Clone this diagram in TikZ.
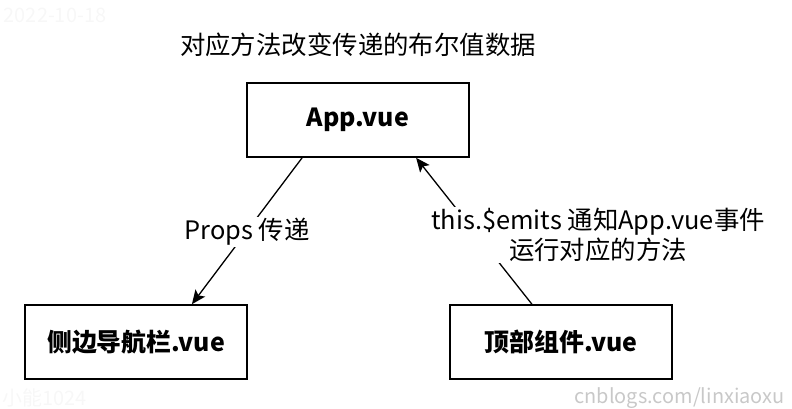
\documentclass[tikz,border=0pt]{standalone}
\usepackage{fontspec}
\setmainfont{Noto Sans CJK SC}
\usepackage{tikz}
\usetikzlibrary{arrows.meta,calc}
\definecolor{markGray}{RGB}{200,200,200}
\definecolor{faintGray}{RGB}{247,247,247}

\begin{document}
\begin{tikzpicture}[x=1bp, y=-1bp,
    comp/.style={draw, line width=1.6bp, minimum width=222bp, minimum height=74bp,
      font=\fontsize{25}{30}\selectfont\bfseries},
    link/.style={line width=1.3bp, -{Stealth[length=14bp, width=12bp, inset=3bp]}},
    lbl/.style={fill=white, inner sep=1bp, align=center, font=\fontsize{25.5}{30}\selectfont}]
  \useasboundingbox (0,0) rectangle (792,408);
  \node[font=\fontsize{25.5}{30}\selectfont] (title) at (358,45) {对应方法改变传递的布尔值数据};
  \node[comp] (app) at (358,120) {App.vue};
  \node[comp] (side) at (136,342) {侧边导航栏.vue};
  \node[comp] (top) at (561,342) {顶部组件.vue};
  % arrows between the components
  \draw[link] ($(app.south west)!0.25!(app.south east)$) -- ($(side.north west)!0.75!(side.north east)$);
  \draw[link] ($(top.north west)!0.37!(top.north east)$) -- ($(app.south west)!0.76!(app.south east)$);
  \node[lbl] (props) at (247,232) {Props 传递};
  \node[lbl] (emits) at (598,235) {this.\$emits 通知App.vue事件\\运行对应的方法};
  % watermarks
  \node[text=faintGray, font=\fontsize{20}{24}\selectfont] (date) at (55,15) {2022-10-18};
  \node[text=faintGray, font=\fontsize{20}{24}\selectfont] (nick) at (45,398) {小能1024};
  \node[text=markGray, font=\fontsize{20}{24}\selectfont, anchor=east] (site) at (788,398) {cnblogs.com/linxiaoxu};
\end{tikzpicture}
\end{document}
